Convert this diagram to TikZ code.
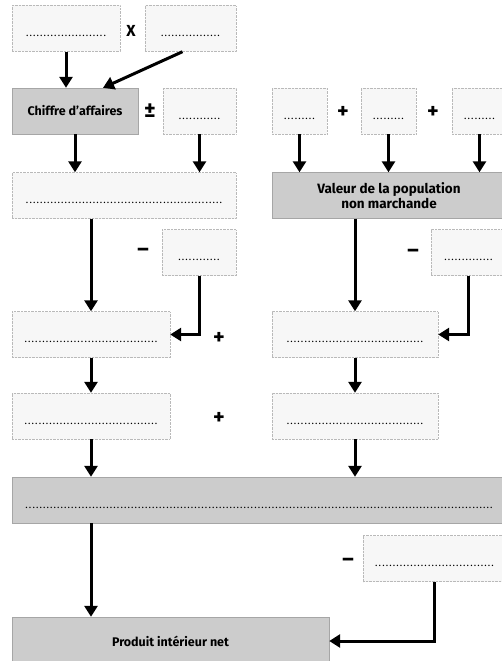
\documentclass[tikz,border=0pt]{standalone}
\usepackage{fontspec}
\setmainfont{Fira Sans}
\usetikzlibrary{
  positioning,
  calc,
  arrows.meta
}

% dotted line to fill in, set below the middle of the box
\newcommand{\pointilles}[1]{\smash{\raisebox{-8pt}{\fontsize{8}{9}\selectfont\bfseries\makebox[#1]{\dotfill}}}}

\begin{document}
\begin{tikzpicture}[x=1pt, y=-1pt,
      emptybox/.style={rectangle, draw=gray!55, densely dotted, fill=gray!6, minimum height=46pt, inner sep=0pt},
      greybox/.style={rectangle, draw=gray!70, fill=gray!40, minimum height=46pt, inner sep=0pt, align=center, font=\bfseries\fontsize{12.5}{14}\selectfont},
      operator/.style={font=\bfseries\fontsize{22}{22}\selectfont, inner sep=0pt},
      arrow/.style={-{Triangle[length=11pt,width=13pt]}, line width=3pt}
    ]
      \useasboundingbox[fill=white] (0,0) rectangle (502,661);

      % Left column
      \node[emptybox, minimum width=108pt] (qte) at (66,28.5) {\pointilles{84pt}};
      \node[emptybox, minimum width=91pt] (prix) at (190.5,28.5) {\pointilles{61pt}};
      \node[greybox, minimum width=126pt] (ca) at (75,111) {Chiffre d'affaires};
      \node[emptybox, minimum width=73pt] (stock) at (199.5,111) {\pointilles{44pt}};
      \node[emptybox, minimum width=224pt] (prod) at (124,195.5) {\pointilles{200pt}};
      \node[emptybox, minimum width=74pt] (ci) at (199,252.5) {\pointilles{44pt}};
      \node[emptybox, minimum width=158pt] (vam) at (91,334.5) {\pointilles{135pt}};
      \node[emptybox, minimum width=158pt] (vam2) at (91,416) {\pointilles{135pt}};

      % Right column
      \node[emptybox, minimum width=55pt] (r1) at (299.5,111) {\pointilles{33pt}};
      \node[emptybox, minimum width=55pt] (r2) at (388.5,111) {\pointilles{33pt}};
      \node[emptybox, minimum width=55pt] (r3) at (479.5,111) {\pointilles{33pt}};
      \node[greybox, minimum width=234pt, font=\bfseries\fontsize{13.5}{15}\selectfont] (vnm) at (389,195.5) {Valeur de la population\\non marchande};
      \node[emptybox, minimum width=75pt] (ci2) at (468.5,252.5) {\pointilles{50pt}};
      \node[emptybox, minimum width=166pt] (vanm) at (355,334.5) {\pointilles{140pt}};
      \node[emptybox, minimum width=166pt] (vanm2) at (355,416) {\pointilles{140pt}};

      % Bottom
      \node[greybox, minimum width=494pt] (pib) at (259,500) {\pointilles{470pt}};
      \node[emptybox, minimum width=143pt] (amort) at (434.5,558.5) {\pointilles{120pt}};
      \node[greybox, minimum width=317pt, minimum height=48pt] (pin) at (170.5,641) {Produit intérieur net};

      % Operators
      \node[operator, font=\bfseries\fontsize{16}{16}\selectfont] (foisq) at (131,31) {X};
      \node[operator] (plusmoins) at (150,111) {±};
      \node[operator] (plusr1) at (343,112) {+};
      \node[operator] (plusr2) at (433,112) {+};
      \node[operator] (moinsci) at (143,252) {–};
      \node[operator] (moinsci2) at (413,253) {–};
      \node[operator] (plusv1) at (219,338) {+};
      \node[operator] (plusv2) at (219,418) {+};
      \node[operator] (moinsam) at (348,562) {–};

      % Arrows
      \draw[arrow] (qte.south) -- (qte.south |- ca.north);
      \draw[arrow] ([xshift=-8pt]prix.south) -- ([xshift=28pt]ca.north);
      \draw[arrow] (ca.south) -- (ca.south |- prod.north);
      \draw[arrow] (stock.south) -- (stock.south |- prod.north);
      \draw[arrow] (prod.south -| vam.north) -- (vam.north);
      \draw[arrow] (ci.south) |- (vam.east);
      \draw[arrow] (vam.south) -- (vam2.north);
      \draw[arrow] (vam2.south) -- (vam2.south |- pib.north);
      \draw[arrow] (r1.south) -- (r1.south |- vnm.north);
      \draw[arrow] (r2.south) -- (r2.south |- vnm.north);
      \draw[arrow] (r3.south) -- (r3.south |- vnm.north);
      \draw[arrow] (vnm.south -| vanm.north) -- (vanm.north);
      \draw[arrow] (ci2.south) |- (vanm.east);
      \draw[arrow] (vanm.south) -- (vanm2.north);
      \draw[arrow] (vanm2.south) -- (vanm2.south |- pib.north);
      \draw[arrow] (vam2.south |- pib.south) -- (vam2.south |- pin.north);
      \draw[arrow] (amort.south) |- (pin.east);
    \end{tikzpicture}
\end{document}
